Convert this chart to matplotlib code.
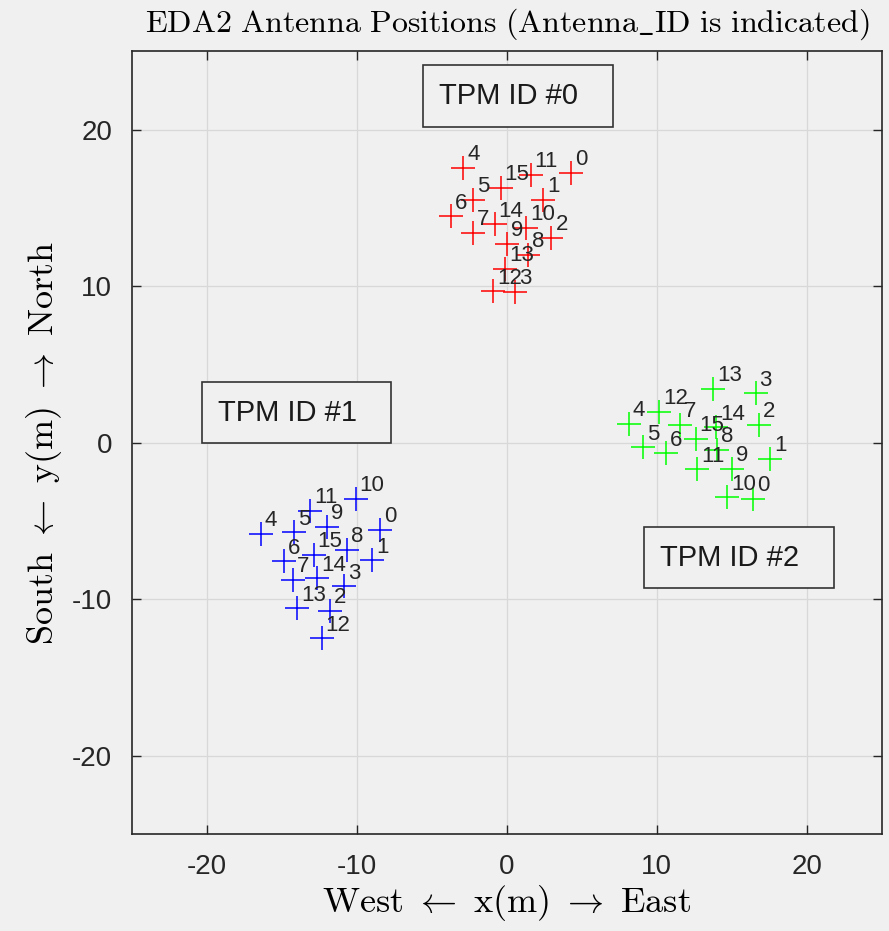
import matplotlib.pyplot as plt
from matplotlib.patches import Rectangle

plt.rcParams['mathtext.fontset'] = 'cm'
plt.rcParams['font.family'] = ['Liberation Sans', 'DejaVu Sans']

# antenna positions per TPM (x east, y north, metres), index = Antenna_ID
tpm0_x = [4.31, 2.42, 2.98, 0.58, -2.90, -2.24, -3.73, -2.24,
          1.42, 0.02, 1.27, 1.60, -0.91, -0.13, -0.80, -0.40]
tpm0_y = [17.23, 15.53, 13.10, 9.63, 17.55, 15.53, 14.48, 13.40,
          12.01, 12.72, 13.74, 17.12, 9.69, 11.12, 13.95, 16.27]

tpm1_x = [-8.42, -8.98, -11.80, -10.84, -16.40, -14.20, -14.87, -14.24,
          -10.64, -11.96, -10.07, -13.09, -12.33, -13.95, -12.62, -12.87]
tpm1_y = [-5.54, -7.48, -10.71, -9.16, -5.81, -5.71, -7.56, -8.75,
          -6.84, -5.35, -3.58, -4.32, -12.48, -10.56, -8.63, -7.16]

tpm2_x = [16.42, 17.53, 16.80, 16.58, 8.13, 9.09, 10.60, 11.53,
          14.02, 15.02, 14.69, 12.69, 10.16, 13.76, 13.93, 12.58]
tpm2_y = [-3.58, -1.02, 1.15, 3.17, 1.21, -0.28, -0.66, 1.15,
          -0.45, -1.66, -3.47, -1.68, 2.00, 3.45, 1.00, 0.26]

tpm_names = ['TPM ID #0', 'TPM ID #1', 'TPM ID #2']
tpm_colors = ['#ff0000', '#0000ff', '#00ff00']
# label boxes (x0, y0, width, height) in data units
tpm_boxes = [(-5.56, 20.17, 12.66, 3.98),
             (-20.3, 0.0, 12.6, 3.87),
             (9.15, -9.29, 12.69, 3.93)]

bg = '#f0f0f0'
fig = plt.figure(figsize=(8.89, 9.31), dpi=100, facecolor=bg)
ax = fig.add_axes([0.148, 0.1037, 0.844, 0.8413], facecolor=bg)

groups = [(tpm0_x, tpm0_y), (tpm1_x, tpm1_y), (tpm2_x, tpm2_y)]
for (xs, ys), col in zip(groups, tpm_colors):
    ax.plot(xs, ys, linestyle='none', marker='+', color=col,
            markersize=17, markeredgewidth=1.1)
    for i, (x, y) in enumerate(zip(xs, ys)):
        ax.annotate(str(i), (x, y), xytext=(4, 13), textcoords='offset pixels',
                    ha='left', va='center', fontsize=16, color='#262626')

for name, (bx, by, bw, bh) in zip(tpm_names, tpm_boxes):
    ax.add_patch(Rectangle((bx, by), bw, bh, facecolor=bg, edgecolor='#333333',
                           linewidth=1.2, zorder=3))
    ax.text(bx + 1.05, by + bh / 2, name, ha='left', va='center',
            fontsize=21, color='#1a1a1a', zorder=4)

ax.set_xlim(-25, 25)
ax.set_ylim(-25, 25)
ax.set_xticks([-20, -10, 0, 10, 20])
ax.set_yticks([-20, -10, 0, 10, 20])
ax.set_xticklabels(['-20', '-10', '0', '10', '20'])
ax.set_yticklabels(['-20', '-10', '0', '10', '20'])
ax.tick_params(direction='in', length=6.5, width=1, labelsize=20,
               colors='#262626', top=True, right=True, pad=14)
ax.grid(True, color='#d8d8d8', linewidth=0.9)
ax.set_axisbelow(True)
for s in ax.spines.values():
    s.set_color('#262626')
    s.set_linewidth(1.2)

ax.set_title(r'$\mathrm{EDA2\ Antenna\ Positions\ (Antenna\_ID\ is\ indicated)}$',
             fontsize=23, pad=14)
ax.set_xlabel(r'$\mathrm{West}\ \leftarrow\ \mathrm{x(m)}\ \rightarrow\ \mathrm{East}$',
              fontsize=26, labelpad=2)
ax.set_ylabel(r'$\mathrm{South}\ \leftarrow\ \mathrm{y(m)}\ \rightarrow\ \mathrm{North}$',
              fontsize=26, labelpad=6)

fig.savefig('out.png', dpi=100, facecolor=bg)
